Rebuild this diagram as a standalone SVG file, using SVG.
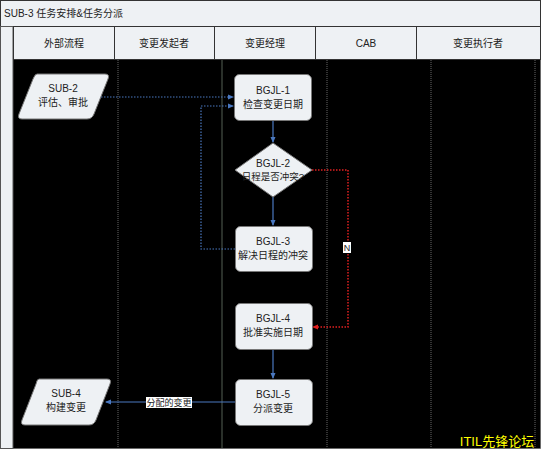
<svg xmlns="http://www.w3.org/2000/svg" width="542" height="453" viewBox="0 0 542 453">
<style>
text{font-family:"Liberation Sans","Noto Sans CJK SC",sans-serif;font-size:10px;fill:#222;text-anchor:middle}
.hd{fill:#eef1f4;stroke:#333;stroke-width:1}
.nd{fill:#eef1f4;stroke:#777;stroke-width:1}
.lane{stroke:#666;stroke-width:1;stroke-dasharray:1,1;fill:none}
.bl{stroke:#4a78c0;stroke-width:1.2;fill:none}
.bd{stroke:#4a78c0;stroke-width:1.2;fill:none;stroke-dasharray:1.5,1.5}
.rd{stroke:#e02020;stroke-width:1.5;fill:none;stroke-dasharray:1.5,1.5}
.lb{fill:#fff}
</style>
<defs>
<marker id="ab" markerWidth="6" markerHeight="6" refX="5" refY="3" orient="auto" markerUnits="userSpaceOnUse"><path d="M0,0.5 L6,3 L0,5.5 Z" fill="#4a78c0"/></marker>
<marker id="ar" markerWidth="6" markerHeight="6" refX="5" refY="3" orient="auto" markerUnits="userSpaceOnUse"><path d="M0,0.5 L6,3 L0,5.5 Z" fill="#e02020"/></marker>
</defs>
<rect x="0" y="0" width="542" height="453" fill="#fff"/>
<g id="pool">
<rect x="0.5" y="26.5" width="540" height="422" fill="#000" stroke="#555" stroke-dasharray="1,1"/>
<rect class="hd" x="0.5" y="0.5" width="540" height="26"/>
<text x="4" y="17" style="text-anchor:start">SUB-3 任务安排&amp;任务分派</text>
<rect x="0.5" y="26.5" width="12.5" height="422" fill="#eef1f4" stroke="#555"/>
<rect class="hd" x="13.5" y="26.5" width="101" height="33"/>
<rect class="hd" x="114.5" y="26.5" width="100" height="33"/>
<rect class="hd" x="214.5" y="26.5" width="101" height="33"/>
<rect class="hd" x="315.5" y="26.5" width="101" height="33"/>
<rect class="hd" x="416.5" y="26.5" width="124" height="33"/>
<text x="64" y="47">外部流程</text>
<text x="164" y="47">变更发起者</text>
<text x="265" y="47">变更经理</text>
<text x="366" y="47">CAB</text>
<text x="478" y="47">变更执行者</text>
<line class="lane" x1="118" y1="60" x2="118" y2="448"/>
<line x1="222" y1="60" x2="222" y2="448" stroke="#556055" stroke-width="1"/>
<line class="lane" x1="327" y1="60" x2="327" y2="448"/>
<line class="lane" x1="431" y1="60" x2="431" y2="448"/>
<line class="lane" x1="535" y1="60" x2="535" y2="448"/>
</g>
<g id="connectors">
<path class="bd" d="M101,97 H233" marker-end="url(#ab)"/>
<path class="bd" d="M235,249 H201 V106 H233" marker-end="url(#ab)"/>
<path class="bl" d="M273,121 V142" marker-end="url(#ab)"/>
<path class="bl" d="M273,197 V225" marker-end="url(#ab)"/>
<path class="rd" d="M312,170 H348 V327 H313" marker-end="url(#ar)"/>
<path class="bl" d="M273,350 V378" marker-end="url(#ab)"/>
<path class="bl" d="M235,402 H106" marker-end="url(#ab)"/>
<rect class="lb" x="343" y="242" width="8" height="11"/>
<text x="347" y="251" style="font-size:9px">N</text>
<rect class="lb" x="146" y="397" width="46" height="11"/>
<text x="169" y="406" style="font-size:9px">分配的变更</text>
</g>
<g id="SUB-2">
<path class="nd" d="M37,74 H105 Q110,74 108,79 L94,114 Q92,119 87,119 H22 Q17,119 19,114 L33,79 Q35,74 37,74 Z"/>
<text x="63" y="92">SUB-2</text>
<text x="63" y="106">评估、审批</text>
</g>
<g id="BGJL-1">
<rect class="nd" x="234.5" y="74.5" width="77" height="46" rx="5"/>
<text x="273" y="94">BGJL-1</text>
<text x="273" y="108">检查变更日期</text>
</g>
<g id="BGJL-2">
<path class="nd" d="M273,143 L312,170 L273,197 L235,170 Z"/>
<text x="273" y="167">BGJL-2</text>
<text x="273" y="180" style="font-size:9.5px">日程是否冲突?</text>
</g>
<g id="BGJL-3">
<rect class="nd" x="235.5" y="226.5" width="77" height="45" rx="5"/>
<text x="273" y="245">BGJL-3</text>
<text x="273" y="259">解决日程的冲突</text>
</g>
<g id="BGJL-4">
<rect class="nd" x="235.5" y="303.5" width="77" height="46" rx="5"/>
<text x="273" y="322">BGJL-4</text>
<text x="273" y="336">批准实施日期</text>
</g>
<g id="BGJL-5">
<rect class="nd" x="235.5" y="379.5" width="77" height="46" rx="5"/>
<text x="273" y="398">BGJL-5</text>
<text x="273" y="412">分派变更</text>
</g>
<g id="SUB-4">
<path class="nd" d="M39,379 H107 Q112,379 110,384 L96,420 Q94,425 89,425 H25 Q20,425 22,420 L36,384 Q37,379 39,379 Z"/>
<text x="66" y="397">SUB-4</text>
<text x="66" y="411">构建变更</text>
</g>
<text x="497" y="446" style="font-size:13px;fill:#ffff00">ITIL先锋论坛</text>
</svg>
